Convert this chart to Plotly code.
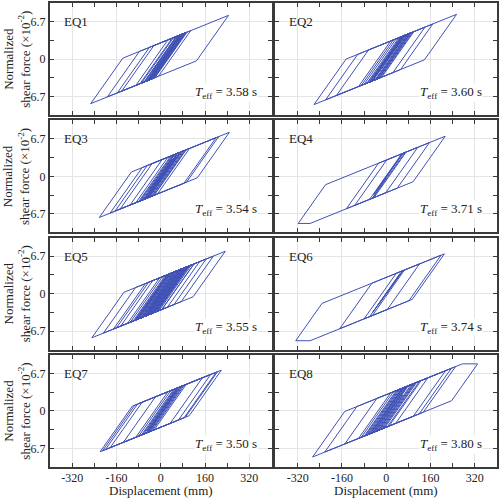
import plotly.graph_objects as go
from plotly.subplots import make_subplots

# ---- data (displacement reversal points, mm) ----
EQ1_REVERSALS = [40, -30, 70, -60, 108, -157, 245, -253, 95, -193, 85, -141, 90, -90, 80, -70,
                 92, -60, 75, -50, 88, -45, 70, -75, 82, -40, 65, -55, 78, -35, 60, -30, 72,
                 -50, 55, -25, 68, -40, 50, -20, 60, -35, 45, 10]
EQ2_REVERSALS = [50, -40, 100, -80, 168, -219, 254, -261, 140, -180, 90, -100, 80, -60, 95, -70,
                 70, -50, 85, -90, 60, -40, 75, -55, 88, -65, 65, -45, 80, -35, 55, -60, 70,
                 -30, 50, -50, 62, -25, 45, 0]
EQ3_REVERSALS = [60, -50, 104, -147, 209, -183, 248, -222, 200, -165, 90, -111, 80, -90, 70, -70,
                 92, -60, 60, -80, 75, -50, 55, -65, 85, -45, 65, -75, 50, -40, 70, -55, 45,
                 -30, 60, -60, 40, 0]
EQ4_REVERSALS = [40, -30, 156, -144, 213, -318, 114, -114, 72, -60, 60, -45, 68, -40, 55, -50,
                 65, -35, 50, 0]
EQ5_REVERSALS = [50, -40, 100, -90, 164, -171, 233, -249, 190, -207, 140, -160, 120, -145, 110,
                 -120, 100, -100, 95, -110, 85, -90, 120, -80, 90, -95, 75, -70, 105, -85, 80,
                 -60, 95, -75, 70, -90, 85, -65, 100, -55, 65, -80, 90, -70, 75, -50, 60, -85,
                 80, -60, 70, -45, 55, -65, 85, -50, 60, -40, 50, -55, 65, -35, 45, 0]
EQ6_REVERSALS = [40, -30, 120, -80, 198, -168, 210, -327, 66, -60, 50, -50, 60, -40, 55, -45,
                 45, -35, 50, -25, 40, 0]
EQ7_REVERSALS = [60, -50, 180, -183, 219, -219, 200, -210, 205, -200, 150, -135, 92, -80, 80,
                 -60, 70, -90, 85, -50, 60, -70, 75, -40, 55, -65, 70, -45, 50, -30, 40, 0]
EQ8_REVERSALS = [60, -50, 126, -150, 250, -222, 330, -266, 235, -100, 214, -80, 150, -90, 110,
                 -70, 100, -60, 120, -50, 90, -75, 80, -40, 105, -55, 70, -65, 95, -30, 60,
                 -45, 75, -20, 50, 0]

REVERSALS = [EQ1_REVERSALS, EQ2_REVERSALS, EQ3_REVERSALS, EQ4_REVERSALS,
             EQ5_REVERSALS, EQ6_REVERSALS, EQ7_REVERSALS, EQ8_REVERSALS]
PANEL_LABELS = ["EQ1", "EQ2", "EQ3", "EQ4", "EQ5", "EQ6", "EQ7", "EQ8"]
T_EFF = ["3.58", "3.60", "3.54", "3.71", "3.55", "3.74", "3.50", "3.80"]

# bilinear isolator properties (force in 1e-2 units, displacement in mm)
CHAR_STRENGTH = 2.9
K_ELASTIC = 0.07
K_POST = 0.02
FORCE_CAP = 8.4

X_TICKS = [-320, -160, 0, 160, 320]
X_TICK_TEXT = ["-320", "-160", "0", "160", "320"]
X_MINOR = [-240, -80, 80, 240]
Y_TICKS = [-6.7, 0, 6.7]
Y_TICK_TEXT = ["-6.7", "0", "6.7"]
Y_MINOR = [-3.35, 3.35]


def upper(x):
    return min(CHAR_STRENGTH + K_POST * x, FORCE_CAP)


def lower(x):
    return max(-CHAR_STRENGTH + K_POST * x, -FORCE_CAP)


def loop_path(revs):
    x, f = 0.0, 0.0
    xs, fs = [x], [f]
    kd = K_ELASTIC - K_POST
    for d in revs:
        if d > x:
            xi = (CHAR_STRENGTH - f + K_ELASTIC * x) / kd
            fi = CHAR_STRENGTH + K_POST * xi
            if fi > FORCE_CAP:
                xi = x + (FORCE_CAP - f) / K_ELASTIC
                fi = FORCE_CAP
            if xi >= d:
                f = f + K_ELASTIC * (d - x)
                x = d
                xs.append(x); fs.append(f)
                continue
            xs.append(xi); fs.append(fi)
            xc = (FORCE_CAP - CHAR_STRENGTH) / K_POST
            if fi < FORCE_CAP and xi < xc < d:
                xs.append(xc); fs.append(FORCE_CAP)
            x, f = d, upper(d)
            xs.append(x); fs.append(f)
        else:
            xi = (K_ELASTIC * x - f - CHAR_STRENGTH) / kd
            fi = -CHAR_STRENGTH + K_POST * xi
            if fi < -FORCE_CAP:
                xi = x - (FORCE_CAP + f) / K_ELASTIC
                fi = -FORCE_CAP
            if xi <= d:
                f = f + K_ELASTIC * (d - x)
                x = d
                xs.append(x); fs.append(f)
                continue
            xs.append(xi); fs.append(fi)
            xc = -(FORCE_CAP - CHAR_STRENGTH) / K_POST
            if fi > -FORCE_CAP and d < xc < xi:
                xs.append(xc); fs.append(-FORCE_CAP)
            x, f = d, lower(d)
            xs.append(x); fs.append(f)
    return xs, fs


FONT = "Liberation Serif"
LINE_COLOR = "#3F51B5"
FRAME = "#3a3a3a"

fig = make_subplots(rows=4, cols=2, horizontal_spacing=4 / 449, vertical_spacing=5.2 / 466)

for i, revs in enumerate(REVERSALS):
    r, c = i // 2 + 1, i % 2 + 1
    xs, fs = loop_path(revs)
    fig.add_trace(go.Scatter(x=xs, y=fs, mode="lines", line=dict(color=LINE_COLOR, width=1),
                             showlegend=False, hoverinfo="skip"), row=r, col=c)
    fig.update_xaxes(range=[-400, 400], tickvals=X_TICKS, ticktext=X_TICK_TEXT,
                     showticklabels=(r == 4), ticks="inside", ticklen=4, tickwidth=1,
                     tickcolor=FRAME, showline=True, linecolor=FRAME, linewidth=2,
                     mirror="allticks", showgrid=True, gridcolor="#e4e4e4", gridwidth=1,
                     zeroline=False, ticklabelstandoff=-1,
                     minor=dict(tickvals=X_MINOR, ticks="inside", ticklen=4, tickcolor=FRAME,
                                showgrid=False),
                     tickfont=dict(family=FONT, size=12, color="#222"), row=r, col=c)
    fig.update_yaxes(range=[-10, 10], tickvals=Y_TICKS, ticktext=Y_TICK_TEXT,
                     showticklabels=(c == 1), ticks="inside", ticklen=4, tickwidth=1,
                     tickcolor=FRAME, showline=True, linecolor=FRAME, linewidth=2,
                     mirror="allticks", showgrid=True, gridcolor="#e4e4e4", gridwidth=1,
                     zeroline=False,
                     minor=dict(tickvals=Y_MINOR, ticks="inside", ticklen=4, tickcolor=FRAME,
                                showgrid=False),
                     tickfont=dict(family=FONT, size=12, color="#222"), row=r, col=c)
    n = "" if i == 0 else str(i + 1)
    fig.add_annotation(x=-358, y=6.7, xref="x" + n, yref="y" + n, text=PANEL_LABELS[i],
                       showarrow=False, xanchor="left", yanchor="middle",
                       font=dict(family=FONT, size=13, color="#222"))
    fig.add_annotation(x=350, y=-6.0, xref="x" + n, yref="y" + n,
                       text="<i>T</i><sub>eff</sub> = " + T_EFF[i] + " s",
                       showarrow=False, xanchor="right", yanchor="middle", bgcolor="white",
                       borderpad=0, font=dict(family=FONT, size=13, color="#222"))

for r in range(4):
    n = "" if r == 0 else str(2 * r + 1)
    fig.add_annotation(x=-0.0745, xref="paper", y=0.5, yref="y" + n + " domain",
                       text="Normalized<br>shear force (×10<sup>-2</sup>)", textangle=-90,
                       showarrow=False, xanchor="center", yanchor="middle",
                       font=dict(family=FONT, size=13, color="#222"))

for c, n in [(1, "7"), (2, "8")]:
    fig.add_annotation(x=0.5, xref="x" + n + " domain", y=-0.051, yref="paper",
                       text="Displacement (mm)", showarrow=False, xanchor="center",
                       yanchor="middle", font=dict(family=FONT, size=13, color="#222"))

fig.update_layout(width=500, height=498, margin=dict(l=50, r=1, t=1, b=31),
                  paper_bgcolor="white", plot_bgcolor="white")

fig.write_html("out.html", config={"displayModeBar": False},
               post_script="document.body.style.margin='0';document.body.style.overflow='hidden';")
